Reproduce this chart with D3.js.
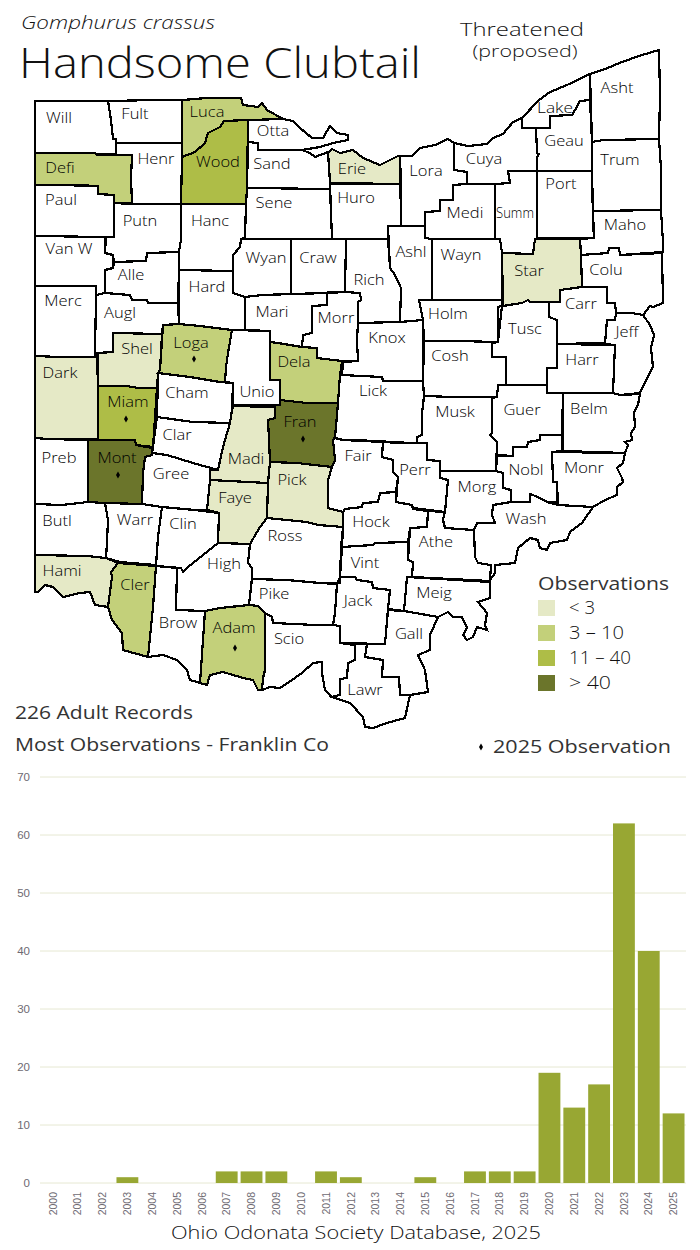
<!DOCTYPE html>
<html>
<head>
<meta charset="utf-8">
<script src="https://cdn.jsdelivr.net/npm/d3@7"></script>
<style>
  body { margin: 0; background: #fff; }
  svg { display: block; }
  text { font-family: "Open Sans", sans-serif; font-weight: 300; fill: #111; }
  .county { stroke: none; shape-rendering: crispEdges; }
  .border { fill: none; stroke: #000; stroke-width: 2.2; stroke-linejoin: miter; shape-rendering: crispEdges; }
  .clabel { font-size: 15px; text-anchor: middle; font-weight: 300; fill: #000; }
  .grey { fill: #333; font-weight: 400; }
  .axis text { font-family: "Liberation Sans", sans-serif; font-weight: 400; fill: #6e6a72; }
  .axis path, .axis line { display: none; }
</style>
</head>
<body>
<div id="chart"></div>
<script>
// observations per year
const years = ["2000","2001","2002","2003","2004","2005","2006","2007","2008","2009","2010","2011","2012",
  "2013","2014","2015","2016","2017","2018","2019","2020","2021","2022","2023","2024","2025"];
const counts = [0,0,0,1,0,0,0,2,2,2,0,2,1,0,0,1,0,2,2,2,19,13,17,62,40,12];
const yTicks = [0,10,20,30,40,50,60,70];

// observation class of each county, anything not listed has none
const under3 = ["Erie","Star","Shel","Dark","Madi","Pick","Faye","Hami"];
const from3to10 = ["Luca","Defi","Loga","Dela","Cler","Adam"];
const from11to40 = ["Wood","Miam"];
const over40 = ["Mont","Fran"];
const observed2025 = ["Loga","Miam","Fran","Mont","Adam"];

const legendLabels = ["< 3","3 \u2013 10","11 \u2013 40","> 40"];
const legendColors = ["#e5e9c6","#c3d07a","#aebd47","#6b752b"];

// county outlines
const counties = [
  ["Will",[[35,101],[108,101],[111,120],[113,139],[116,139],[116,154],[97,154],[95,153],[35,153]]],
  ["Fult",[[108,101],[157,100],[182,100],[182,143],[116,143],[116,139],[113,139],[111,120]]],
  ["Henr",[[116,143],[182,143],[182,158],[181,204],[132,204],[131,178],[132,155],[116,155]]],
  ["Defi",[[35,153],[95,153],[97,155],[132,155],[131,178],[132,203],[114,203],[114,195],[98,194],[98,186],[75,186],[74,185],[35,185]]],
  ["Paul",[[35,185],[74,185],[98,186],[98,194],[114,195],[114,237],[106,237],[35,236]]],
  ["Putn",[[114,203],[132,204],[181,204],[181,240],[180,245],[179,252],[147,253],[146,261],[114,262],[113,255],[105,253],[105,240],[106,237],[114,237]]],
  ["Hanc",[[181,204],[246,204],[245,237],[241,239],[240,247],[233,255],[233,271],[179,270],[179,252],[180,245],[181,240]]],
  ["Van W",[[35,236],[106,237],[105,253],[113,255],[113,268],[105,270],[105,293],[96,295],[96,286],[35,286]]],
  ["Alle",[[114,262],[146,261],[147,253],[179,252],[179,270],[178,303],[148,303],[147,300],[132,300],[130,295],[105,293],[105,270],[113,268]]],
  ["Merc",[[35,286],[96,286],[96,295],[95,355],[97,357],[60,357],[35,356]]],
  ["Augl",[[96,295],[105,293],[130,295],[132,300],[147,300],[148,303],[178,303],[179,324],[163,325],[162,334],[113,333],[113,352],[97,353],[95,355]]],
  ["Shel",[[113,333],[162,334],[160,370],[158,374],[157,388],[138,388],[127,386],[98,386],[98,353],[113,352]]],
  ["Loga",[[163,325],[179,324],[200,326],[232,330],[228,353],[226,367],[225,382],[220,382],[190,377],[158,373],[160,370],[162,340]]],
  ["Dark",[[35,356],[60,357],[97,357],[98,386],[98,439],[48,439],[35,438]]],
  ["Miam",[[98,386],[127,386],[138,388],[157,388],[155,417],[153,447],[136,445],[135,440],[98,440]]],
  ["Mont",[[88,440],[135,440],[136,445],[152,448],[152,455],[145,457],[143,473],[142,504],[105,503],[88,502]]],
  ["Preb",[[35,438],[48,439],[88,440],[88,502],[62,505],[35,504]]],
  ["Cham",[[158,373],[190,377],[220,382],[233,383],[232,410],[230,423],[193,422],[157,417]]],
  ["Clar",[[157,417],[193,422],[230,423],[223,447],[218,470],[193,463],[167,455],[152,453],[153,447]]],
  ["Unio",[[232,330],[270,331],[270,380],[280,380],[280,405],[233,405],[233,383],[225,382],[226,367],[228,353]]],
  ["Madi",[[233,406],[275,407],[275,418],[268,420],[269,440],[270,462],[268,483],[210,480],[210,470],[218,470],[223,447],[230,423],[232,410]]],
  ["Fran",[[280,400],[307,403],[338,403],[335,437],[333,440],[335,460],[332,467],[297,463],[270,462],[269,440],[268,420],[275,418],[275,405],[280,405]]],
  ["Dela",[[270,342],[278,343],[302,347],[317,348],[317,358],[342,361],[340,375],[338,403],[307,403],[280,400],[280,380],[270,380]]],
  ["Mari",[[245,297],[262,295],[327,293],[327,305],[312,306],[312,333],[303,335],[302,347],[278,343],[270,342],[270,331],[245,330]]],
  ["Hard",[[179,270],[233,271],[233,293],[245,297],[245,330],[232,330],[200,326],[179,324]]],
  ["Wyan",[[241,239],[291,239],[291,294],[262,295],[245,297],[233,293],[233,255],[240,247]]],
  ["Craw",[[291,239],[346,239],[345,292],[328,292],[327,293],[291,294]]],
  ["Sand",[[248,142],[258,143],[258,150],[302,150],[310,153],[315,157],[328,152],[330,182],[330,189],[247,188]]],
  ["Otta",[[248,120],[283,119],[293,121],[300,128],[312,138],[323,138],[330,126],[337,133],[348,135],[348,140],[333,143],[320,147],[302,150],[258,150],[258,143],[248,142]]],
  ["Erie",[[328,153],[332,149],[340,153],[353,150],[363,158],[380,165],[398,156],[400,156],[401,184],[330,183]]],
  ["Huro",[[330,184],[401,184],[401,226],[388,226],[388,239],[332,239]]],
  ["Sene",[[247,188],[330,189],[332,239],[291,239],[241,239],[245,237],[246,204]]],
  ["Wood",[[182,157],[195,152],[205,143],[208,133],[220,127],[224,121],[248,120],[247,188],[246,204],[181,204]]],
  ["Luca",[[182,100],[207,98],[241,98],[243,105],[258,107],[262,103],[267,110],[283,119],[248,120],[224,121],[220,127],[208,133],[205,143],[195,152],[182,157]]],
  ["Lora",[[400,156],[412,156],[420,148],[435,145],[448,139],[454,143],[454,170],[467,172],[467,184],[453,185],[453,200],[440,200],[440,211],[425,212],[425,226],[401,226]]],
  ["Cuya",[[454,143],[468,146],[487,144],[493,138],[503,134],[513,122],[522,118],[522,128],[536,128],[537,153],[539,154],[537,157],[537,171],[508,171],[510,183],[495,184],[467,184],[467,172],[454,170]]],
  ["Lake",[[522,118],[539,100],[550,92],[567,85],[590,74],[590,100],[580,101],[575,110],[572,115],[550,116],[550,128],[522,128]]],
  ["Asht",[[590,74],[605,69],[622,62],[642,55],[659,50],[660,95],[659,139],[603,140],[592,142]]],
  ["Geau",[[550,116],[572,115],[575,110],[580,101],[590,100],[592,142],[592,171],[537,171],[537,157],[539,154],[537,153],[536,128],[550,128]]],
  ["Port",[[537,171],[592,171],[593,223],[594,238],[537,238]]],
  ["Summ",[[508,171],[537,171],[537,238],[535,239],[533,254],[502,253],[500,239],[495,239],[495,184],[510,183]]],
  ["Medi",[[453,185],[467,184],[495,184],[495,239],[432,239],[425,238],[425,212],[440,211],[440,200],[453,200]]],
  ["Ashl",[[388,226],[425,226],[425,238],[432,239],[432,300],[419,300],[423,320],[400,322],[401,288],[395,275],[390,268]]],
  ["Rich",[[346,239],[388,239],[390,268],[395,275],[401,288],[400,322],[358,323],[358,302],[361,300],[360,293],[345,292]]],
  ["Morr",[[327,293],[345,292],[360,293],[361,300],[358,302],[358,323],[357,340],[358,361],[342,361],[317,358],[317,348],[302,347],[303,335],[312,333],[312,306],[327,305]]],
  ["Knox",[[358,323],[400,322],[423,320],[423,340],[423,381],[383,381],[382,377],[342,375],[343,362],[358,361],[357,340]]],
  ["Lick",[[342,375],[382,377],[383,381],[423,381],[424,397],[422,413],[422,435],[417,437],[417,443],[383,442],[343,440],[335,438],[338,403],[340,375]]],
  ["Holm",[[419,300],[502,300],[502,306],[498,307],[498,342],[458,341],[424,341],[423,320]]],
  ["Wayn",[[432,239],[500,239],[502,253],[502,300],[432,300]]],
  ["Star",[[502,253],[533,254],[535,239],[580,239],[581,255],[582,287],[560,290],[560,302],[530,302],[528,300],[522,303],[503,306]]],
  ["Maho",[[593,211],[661,210],[663,242],[663,252],[620,255],[619,248],[609,248],[608,253],[581,255],[580,239],[594,238]]],
  ["Trum",[[592,142],[603,140],[659,139],[661,168],[661,210],[593,211],[592,171]]],
  ["Colu",[[581,255],[608,253],[609,248],[619,248],[620,255],[662,253],[663,303],[653,307],[650,306],[643,315],[632,313],[616,313],[615,303],[607,303],[607,287],[582,287]]],
  ["Carr",[[560,290],[582,287],[607,287],[607,303],[615,303],[616,313],[615,320],[607,320],[605,343],[557,344],[557,320],[549,317],[549,302],[560,302]]],
  ["Jeff",[[616,313],[632,313],[643,315],[650,325],[654,335],[651,348],[653,367],[645,382],[640,393],[620,395],[613,393],[615,345],[605,344],[607,320],[615,320]]],
  ["Harr",[[557,344],[615,345],[613,393],[563,393],[547,393],[547,368],[557,368]]],
  ["Tusc",[[502,306],[522,303],[528,300],[530,302],[549,302],[549,317],[557,320],[557,368],[547,368],[547,385],[506,385],[506,357],[492,357],[492,343],[498,342]]],
  ["Cosh",[[424,341],[458,341],[498,342],[492,343],[492,357],[506,357],[506,385],[498,385],[497,397],[453,397],[424,396],[423,381]]],
  ["Musk",[[424,396],[453,397],[497,397],[492,398],[492,433],[490,435],[497,442],[496,471],[440,471],[440,461],[427,460],[427,443],[417,443],[417,437],[422,435],[422,413]]],
  ["Guer",[[498,385],[547,385],[547,393],[563,393],[562,435],[540,435],[540,440],[528,442],[527,447],[513,447],[513,456],[497,455],[497,442],[490,435],[492,433],[492,398],[497,397]]],
  ["Belm",[[563,393],[613,393],[620,395],[640,394],[638,405],[634,412],[635,427],[631,433],[632,440],[625,442],[628,445],[625,453],[563,451]]],
  ["Nobl",[[497,456],[513,456],[513,447],[527,447],[528,442],[540,440],[540,435],[562,435],[562,451],[552,452],[553,482],[557,482],[557,502],[547,502],[538,497],[530,494],[530,502],[511,502],[511,490],[503,488],[503,473],[496,471]]],
  ["Monr",[[552,452],[625,453],[623,463],[617,468],[622,478],[623,482],[617,487],[617,495],[605,500],[593,507],[558,505],[557,482],[553,482]]],
  ["Wash",[[493,505],[511,502],[530,502],[530,494],[538,497],[547,502],[558,505],[593,507],[582,523],[570,532],[567,540],[550,543],[547,550],[540,548],[538,540],[530,538],[518,548],[515,563],[495,565],[495,573],[490,580],[491,565],[478,563],[475,557],[474,530],[477,523],[495,523],[492,515]]],
  ["Morg",[[440,471],[496,471],[503,473],[503,488],[511,490],[511,502],[493,505],[492,515],[495,523],[477,523],[474,530],[445,528],[443,520],[445,512],[448,480],[440,478]]],
  ["Perr",[[383,441],[393,443],[417,443],[427,443],[427,460],[440,461],[440,478],[448,480],[445,512],[413,508],[412,505],[396,502],[398,477],[393,472],[393,460],[382,457]]],
  ["Fair",[[335,438],[343,440],[383,441],[382,457],[393,460],[393,472],[398,477],[396,492],[380,493],[378,502],[363,503],[362,507],[345,509],[343,512],[328,508],[328,480],[332,467],[335,460],[333,440]]],
  ["Pick",[[270,462],[297,463],[332,467],[328,480],[328,508],[343,512],[343,527],[318,525],[307,522],[267,518],[268,483]]],
  ["Faye",[[210,480],[268,483],[267,518],[260,527],[250,544],[218,543],[219,513],[207,510]]],
  ["Gree",[[152,453],[167,455],[193,463],[218,470],[210,470],[210,480],[207,510],[195,510],[162,507],[142,504],[143,473],[145,457],[152,455]]],
  ["Butl",[[35,504],[62,505],[88,502],[105,503],[108,520],[107,542],[106,558],[87,556],[35,555]]],
  ["Warr",[[105,503],[142,504],[162,507],[158,537],[156,565],[120,562],[106,558],[107,542],[108,520]]],
  ["Clin",[[162,507],[195,510],[219,513],[218,543],[203,555],[188,567],[183,572],[181,568],[156,566],[158,537]]],
  ["High",[[177,568],[181,568],[183,572],[188,567],[203,555],[218,543],[250,544],[248,563],[252,568],[252,578],[249,605],[220,608],[205,611],[176,610]]],
  ["Ross",[[267,518],[307,522],[318,525],[343,527],[341,547],[340,583],[320,583],[287,580],[252,579],[252,568],[248,563],[250,544],[260,527]]],
  ["Hock",[[343,512],[345,509],[362,507],[363,503],[378,502],[380,493],[396,492],[396,502],[412,505],[413,509],[428,511],[427,527],[410,528],[408,542],[375,543],[373,545],[342,547],[343,527]]],
  ["Athe",[[428,511],[445,512],[443,520],[445,528],[474,530],[475,557],[478,563],[491,565],[490,581],[412,577],[413,562],[408,560],[410,528],[427,527]]],
  ["Vint",[[342,547],[373,545],[375,543],[408,542],[408,560],[413,562],[412,577],[407,577],[404,611],[388,609],[390,590],[373,588],[372,582],[357,580],[355,577],[340,577]]],
  ["Jack",[[340,577],[355,577],[357,580],[372,582],[373,588],[390,590],[388,609],[385,644],[340,643],[340,626],[333,625],[335,613],[337,584]]],
  ["Pike",[[252,579],[287,580],[320,583],[337,584],[335,613],[333,625],[315,625],[273,623],[272,617],[265,613],[258,606],[249,605]]],
  ["Scio",[[265,613],[272,617],[273,623],[315,625],[333,625],[340,626],[340,643],[355,645],[355,660],[348,663],[347,678],[340,679],[340,695],[332,697],[325,690],[322,673],[322,662],[313,663],[302,673],[292,680],[280,688],[270,687],[262,690],[263,678],[265,670]]],
  ["Adam",[[205,611],[220,608],[249,605],[258,606],[265,613],[265,670],[263,678],[262,690],[258,690],[253,680],[243,678],[223,672],[210,675],[207,685],[200,683]]],
  ["Brow",[[156,566],[177,568],[176,610],[205,611],[200,683],[190,680],[187,670],[177,660],[163,655],[148,657],[153,607]]],
  ["Cler",[[111,572],[118,563],[156,566],[153,607],[148,657],[123,650],[122,633],[112,620],[108,607],[112,577]]],
  ["Hami",[[35,555],[87,556],[106,558],[118,563],[111,572],[112,577],[108,607],[95,605],[90,592],[80,593],[63,597],[53,587],[45,585],[38,592],[35,592]]],
  ["Gall",[[388,610],[404,611],[438,617],[430,635],[430,650],[418,655],[425,670],[428,692],[410,695],[400,695],[399,677],[382,677],[383,660],[365,657],[367,644],[385,644]]],
  ["Meig",[[407,577],[490,582],[490,598],[478,602],[487,613],[485,625],[487,630],[477,627],[473,637],[467,640],[463,635],[467,628],[462,617],[453,617],[448,612],[438,617],[404,611]]],
  ["Lawr",[[355,644],[367,644],[365,657],[383,660],[382,677],[399,677],[400,695],[410,695],[405,718],[387,723],[373,728],[365,727],[363,717],[350,703],[332,697],[340,695],[340,679],[347,678],[348,663],[355,660]]]
];

// where each name sits on the map
const labelAt = {
  "Will":[59,118],"Fult":[135,114],"Luca":[207,112],"Otta":[273,131],"Lake":[555,108],"Asht":[617,88],"Geau":[564,141],
  "Trum":[620,160],"Defi":[60,168],"Henr":[156,159],"Wood":[218,162],"Sand":[272,164],"Erie":[352,169],"Lora":[426,171],
  "Cuya":[484,159],"Port":[561,184],"Paul":[61,200],"Putn":[140,221],"Hanc":[210,221],"Sene":[274,203],"Huro":[356,198],
  "Medi":[465,213],"Summ":[515,213],"Maho":[625,225],"Van W":[69,249],"Alle":[131,275],"Wyan":[266,258],"Craw":[318,258],
  "Ashl":[411,252],"Wayn":[461,255],"Star":[529,271],"Colu":[606,270],"Merc":[63,301],"Augl":[120,313],"Hard":[207,287],
  "Mari":[272,312],"Rich":[369,280],"Morr":[336,318],"Holm":[448,314],"Tusc":[525,329],"Carr":[581,304],"Jeff":[627,332],
  "Shel":[137,349],"Loga":[191,343],"Dela":[294,362],"Knox":[387,338],"Cosh":[450,356],"Harr":[582,360],"Dark":[60,373],
  "Miam":[128,402],"Cham":[187,393],"Unio":[257,392],"Lick":[373,391],"Musk":[455,412],"Guer":[522,410],"Belm":[589,409],
  "Clar":[177,435],"Madi":[246,459],"Fran":[300,422],"Fair":[358,456],"Perr":[415,470],"Nobl":[526,470],"Monr":[584,468],
  "Preb":[59,458],"Mont":[117,458],"Gree":[171,474],"Pick":[292,480],"Morg":[477,487],"Wash":[526,519],"Butl":[57,521],
  "Warr":[135,520],"Clin":[183,524],"Faye":[235,498],"Hock":[371,522],"Ross":[285,536],"Athe":[436,542],"Hami":[62,571],
  "Cler":[135,585],"High":[224,564],"Vint":[365,563],"Meig":[434,593],"Brow":[178,623],"Adam":[234,628],"Pike":[274,594],
  "Jack":[358,601],"Gall":[409,634],"Scio":[289,639],"Lawr":[365,690]
};
const dotAt = { "Loga":[194,359],"Miam":[126,419],"Fran":[303,439],"Mont":[118,475],"Adam":[235,648] };
// these two are squeezed to fit their county
const labelFit = { "Summ": 38, "Lake": 36 };

const width = 700;
const height = 1250;

const svg = d3
  .select("#chart")
  .append("svg")
  .attr("width", width)
  .attr("height", height)
  .attr("viewBox", [0, 0, width, height]);

function title(str, x, y, size, len, anchor) {
  const t = svg
    .append("text")
    .attr("x", x)
    .attr("y", y)
    .attr("font-size", size)
    .attr("lengthAdjust", "spacingAndGlyphs")
    .text(str);
  if (len) t.attr("textLength", len);
  if (anchor) t.attr("text-anchor", anchor);
  return t;
}

title("Gomphurus crassus", 21, 28.5, 18, 194).attr("font-style", "italic");
title("Handsome Clubtail", 19, 78, 42, 402);
title("Threatened", 522, 36, 19, 124, "middle");
title("(proposed)", 525, 57, 16.5, 105, "middle");

// map
const classOf = new Map();
[under3, from3to10, from11to40, over40].forEach((names, i) => {
  names.forEach((n) => classOf.set(n, i));
});

const features = counties.map(([name, ring]) => ({
  type: "Feature",
  properties: { name },
  geometry: { type: "Polygon", coordinates: [[...ring, ring[0]]] }
}));

const path = d3.geoPath(d3.geoIdentity());

svg
  .append("g")
  .selectAll("path")
  .data(features)
  .join("path")
  .attr("class", "county")
  .attr("d", path)
  .attr("fill", (d) =>
    classOf.has(d.properties.name) ? legendColors[classOf.get(d.properties.name)] : "#fff"
  );

svg
  .append("g")
  .selectAll("path")
  .data(features)
  .join("path")
  .attr("class", "border")
  .attr("d", path);

svg
  .append("g")
  .selectAll("text")
  .data(features)
  .join("text")
  .attr("class", "clabel")
  .attr("x", (d) => labelAt[d.properties.name][0])
  .attr("y", (d) => labelAt[d.properties.name][1] + 5)
  .attr("lengthAdjust", "spacingAndGlyphs")
  .text((d) => d.properties.name)
  .attr("textLength", function (d) {
    return labelFit[d.properties.name] || this.getComputedTextLength() * 1.1;
  });

const diamond = d3.symbol().type(d3.symbolDiamond).size(14);

svg
  .append("g")
  .selectAll("path")
  .data(observed2025)
  .join("path")
  .attr("d", diamond)
  .attr("fill", "#000")
  .attr("transform", (d) => `translate(${dotAt[d]})`);

// legend
const legendWidths = [26, 55, 62, 42];
title("Observations", 538, 590, 18.5, 131).attr("class", "grey");
const legend = svg
  .append("g")
  .selectAll("g")
  .data(legendLabels)
  .join("g")
  .attr("transform", (d, i) => `translate(538,${600 + i * 25})`);
legend
  .append("rect")
  .attr("width", 17)
  .attr("height", 16)
  .attr("fill", (d, i) => legendColors[i]);
legend
  .append("text")
  .attr("x", 31)
  .attr("y", 14)
  .attr("font-size", 19)
  .attr("lengthAdjust", "spacingAndGlyphs")
  .attr("textLength", (d, i) => legendWidths[i])
  .text((d) => d);

// notes under the map
title("226 Adult Records", 15, 719, 18, 178).attr("class", "grey");
title("Most Observations - Franklin Co", 15, 751, 18, 314).attr("class", "grey");
title("2025  Observation", 493, 753, 18, 178).attr("class", "grey");
svg.append("path").attr("d", diamond).attr("fill", "#000").attr("transform", "translate(481,747)");

// bar chart
const x = d3.scaleBand().domain(years).range([40.5, 686]).paddingInner(0.12).paddingOuter(0.06);
const y = d3.scaleLinear().domain([0, 70]).range([1183, 777]);

svg
  .append("g")
  .selectAll("line")
  .data(yTicks)
  .join("line")
  .attr("x1", 40)
  .attr("x2", 686)
  .attr("y1", (d) => y(d))
  .attr("y2", (d) => y(d))
  .attr("stroke", "#e6e8d2")
  .attr("stroke-width", 1);

svg
  .append("g")
  .selectAll("rect")
  .data(years)
  .join("rect")
  .attr("x", (d) => x(d))
  .attr("width", x.bandwidth())
  .attr("y", (d, i) => y(counts[i]))
  .attr("height", (d, i) => y(0) - y(counts[i]))
  .attr("fill", "#98a733");

svg
  .append("g")
  .attr("class", "axis")
  .attr("transform", "translate(33,0)")
  .call(d3.axisLeft(y).tickValues(yTicks).tickSize(0))
  .selectAll("text")
  .attr("font-size", 11.5);

svg
  .append("g")
  .attr("class", "axis")
  .attr("transform", "translate(0,1183)")
  .call(d3.axisBottom(x).tickSize(0))
  .selectAll("text")
  .attr("font-size", 10.5)
  .attr("text-anchor", "end")
  .attr("transform", "rotate(-90)")
  .attr("x", -9)
  .attr("y", 0)
  .attr("dy", "0.35em");

title("Ohio Odonata Society Database, 2025", 356, 1239, 18, 370, "middle");
</script>
</body>
</html>
